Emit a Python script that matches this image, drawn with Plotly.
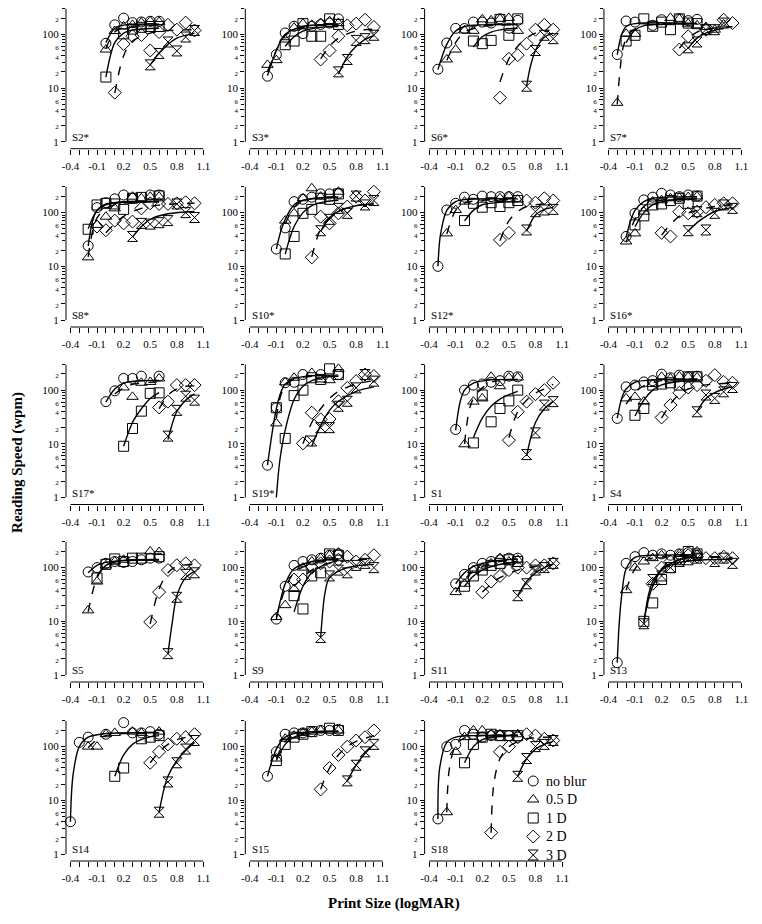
import plotly.graph_objects as go

# page has an 8px body margin: figure is drawn 8px right/down of the window origin
OFF = 8
W, H = 762 - 2 * OFF, 924 - 2 * OFF
FONT = "Liberation Serif"

CONDITIONS = ["no blur", "0.5 D", "1 D", "2 D", "3 D"]
SYMBOLS = ["circle-open", "triangle-up-open", "square-open", "diamond-open", "hourglass-open"]
DASHES = ["solid", "dash", "solid", "dash", "solid"]

X_TICKS = [-0.4, -0.1, 0.2, 0.5, 0.8, 1.1]
X_TICK_TEXT = ["-0.4", "-0.1", "0.2", "0.5", "0.8", "1.1"]
X_MINOR = [-0.3, -0.2, 0.0, 0.1, 0.3, 0.4, 0.6, 0.7, 0.9, 1.0]
Y_TICKS = [1, 2, 4, 6, 10, 20, 40, 60, 100, 200]
Y_TICK_TEXT = ["1", "2", "4", "6", "10", "2", "4", "6", "100", "2"]
Y_SMALL = [False, True, True, True, False, True, True, True, False, True]
Y_MINOR = [3, 5, 7, 8, 9, 30, 50, 70, 80, 90, 300]

# ---- data: markers (x logMAR, y wpm) per condition [no blur, 0.5D, 1D, 2D, 3D]
S2_pts = [
    [(0, 68), (0.1, 150), (0.2, 200), (0.3, 165), (0.4, 170), (0.5, 175), (0.6, 175)],
    [(0, 52), (0.1, 115), (0.2, 140), (0.3, 150), (0.4, 165), (0.5, 175), (0.6, 170)],
    [(0, 16), (0.2, 102), (0.3, 125), (0.4, 135), (0.5, 140), (0.6, 140)],
    [(0.1, 8.2), (0.2, 66), (0.3, 92), (0.4, 97), (0.5, 50), (0.6, 110), (0.7, 150), (0.8, 122), (0.9, 165), (1.0, 118)],
    [(0.5, 27), (0.6, 44), (0.7, 72), (0.8, 49), (0.9, 89), (1.0, 118)],
]
S2_fit = [
    [(0, 70), (0.1, 130), (0.2, 148), (0.6, 155)],
    [(0, 55), (0.1, 110), (0.2, 135), (0.6, 145)],
    [(0, 16), (0.1, 70), (0.2, 105), (0.3, 120), (0.6, 130)],
    [(0.1, 8), (0.2, 40), (0.3, 75), (0.5, 105), (0.7, 118), (1.0, 122)],
    [(0.5, 27), (0.6, 45), (0.7, 65), (0.8, 85), (1.0, 105)],
]
S3_pts = [
    [(-0.2, 16.6), (-0.1, 42), (0, 106), (0.1, 141), (0.2, 103), (0.3, 141), (0.4, 153), (0.5, 162), (0.6, 194)],
    [(-0.2, 27), (-0.1, 33), (0, 80), (0.1, 133), (0.2, 158), (0.3, 150), (0.4, 162), (0.5, 176), (0.6, 162)],
    [(0, 64), (0.1, 75), (0.2, 158), (0.3, 92), (0.4, 92), (0.5, 194), (0.6, 153)],
    [(0.4, 34), (0.5, 50), (0.6, 92), (0.7, 147), (0.8, 158), (0.9, 187), (1.0, 137)],
    [(0.6, 20), (0.7, 34), (0.8, 77), (0.9, 83), (1.0, 96)],
]
S3_fit = [
    [(-0.2, 17), (-0.1, 50), (0, 100), (0.2, 140), (0.6, 152)],
    [(-0.2, 20), (-0.1, 50), (0, 95), (0.2, 135), (0.6, 148)],
    [(0, 60), (0.1, 90), (0.2, 115), (0.4, 135), (0.6, 140)],
    [(0.4, 35), (0.5, 60), (0.6, 85), (0.8, 115), (1.0, 125)],
    [(0.6, 18), (0.7, 38), (0.8, 60), (0.9, 80), (1.0, 95)],
]
S6_pts = [
    [(-0.3, 22.4), (-0.2, 69), (-0.1, 129), (0, 128), (0.1, 169), (0.2, 169), (0.3, 162), (0.4, 194), (0.5, 130), (0.6, 182)],
    [(-0.2, 34), (-0.1, 52), (0, 118), (0.1, 116), (0.2, 190), (0.3, 182), (0.4, 194), (0.5, 202), (0.6, 116)],
    [(0.1, 75), (0.2, 67), (0.3, 77), (0.4, 190), (0.5, 96), (0.6, 194)],
    [(0.4, 6.6), (0.5, 35), (0.6, 41), (0.7, 67), (0.8, 122), (0.9, 150), (1.0, 122)],
    [(0.7, 10.8), (0.8, 50), (0.9, 96), (1.0, 83)],
]
S6_fit = [
    [(-0.3, 22), (-0.2, 65), (-0.1, 115), (0, 140), (0.2, 150), (0.6, 152)],
    [(-0.2, 33), (-0.1, 70), (0, 110), (0.2, 140), (0.6, 150)],
    [(0.1, 58), (0.2, 90), (0.3, 110), (0.45, 125), (0.6, 130)],
    [(0.4, 13), (0.5, 35), (0.6, 60), (0.7, 85), (0.8, 105), (0.95, 115)],
    [(0.7, 10.8), (0.74, 24), (0.8, 50), (0.9, 88), (1.0, 105)],
]
S7_pts = [
    [(-0.3, 42), (-0.2, 177), (-0.1, 169), (0.1, 147), (0.2, 187), (0.4, 194), (0.5, 180), (0.6, 190), (0.7, 122)],
    [(-0.3, 5.3), (-0.2, 102), (-0.1, 102), (0.3, 202), (0.4, 194), (0.5, 158), (0.6, 147), (0.7, 137), (0.8, 122), (0.9, 153)],
    [(-0.2, 75), (-0.1, 96), (0, 194), (0.1, 141), (0.2, 169), (0.3, 122), (0.4, 194), (0.5, 162), (0.6, 158)],
    [(0.4, 52), (0.5, 92), (0.7, 122), (0.9, 187), (1.0, 162)],
    [(0.5, 56), (0.6, 72), (0.7, 122), (0.8, 122), (0.9, 162)],
]
S7_fit = [
    [(-0.3, 42), (-0.25, 100), (-0.2, 140), (-0.1, 158), (0.6, 160)],
    [(-0.3, 5), (-0.27, 20), (-0.23, 60), (-0.15, 110), (0, 145), (0.6, 155)],
    [(-0.2, 70), (-0.1, 120), (0, 145), (0.3, 155), (0.6, 158)],
    [(0.4, 55), (0.5, 85), (0.6, 110), (0.7, 125), (0.9, 135), (1.0, 138)],
    [(0.5, 55), (0.6, 85), (0.7, 105), (0.8, 120), (0.9, 128)],
]
S8_pts = [
    [(-0.2, 24), (-0.1, 124), (0, 153), (0.1, 180), (0.2, 213), (0.3, 185), (0.5, 213), (0.6, 213)],
    [(-0.2, 14.7), (-0.1, 59), (0, 84), (0.1, 120), (0.3, 198), (0.4, 185), (0.5, 198), (0.6, 198)],
    [(-0.2, 49), (-0.1, 139), (0, 149), (0.1, 145), (0.2, 115), (0.3, 185), (0.4, 192), (0.6, 205)],
    [(-0.1, 55), (0, 47), (0.1, 71), (0.2, 63), (0.3, 68), (0.4, 120), (0.5, 149), (0.6, 145), (0.7, 145), (0.8, 149), (0.9, 156), (1.0, 149)],
    [(0.3, 36), (0.4, 63), (0.5, 61), (0.6, 65), (0.7, 71), (0.8, 145), (0.9, 100), (1.0, 81)],
]
S8_fit = [
    [(-0.2, 24), (-0.15, 70), (-0.1, 110), (0, 145), (0.2, 160), (0.6, 162)],
    [(-0.2, 15), (-0.15, 45), (-0.1, 80), (0, 120), (0.2, 150), (0.6, 160)],
    [(-0.2, 50), (-0.1, 110), (0, 140), (0.2, 155), (0.6, 158)],
    [(0, 42), (0.2, 85), (0.4, 120), (0.6, 138), (1.0, 150)],
    [(0.3, 35), (0.4, 55), (0.5, 75), (0.7, 95), (1.0, 105)],
]
S10_pts = [
    [(-0.1, 21), (0, 52), (0.1, 160), (0.2, 177), (0.3, 194), (0.4, 223), (0.5, 223), (0.6, 229)],
    [(0, 71), (0.1, 97), (0.2, 185), (0.3, 284), (0.4, 198), (0.6, 245)],
    [(0, 17), (0.1, 36), (0.2, 97), (0.3, 115), (0.4, 185), (0.5, 177), (0.6, 223)],
    [(0.3, 14.7), (0.4, 84), (0.5, 63), (0.6, 97), (0.7, 130), (0.8, 198), (0.9, 168), (1.0, 245)],
    [(0.4, 46), (0.5, 75), (0.6, 120), (0.7, 97), (0.8, 203), (0.9, 139), (1.0, 168)],
]
S10_fit = [
    [(-0.1, 21), (-0.05, 45), (0, 75), (0.1, 140), (0.2, 170), (0.4, 190), (0.6, 195)],
    [(0, 62), (0.1, 125), (0.2, 165), (0.4, 190), (0.6, 198)],
    [(0, 17), (0.1, 55), (0.2, 100), (0.3, 135), (0.45, 160), (0.6, 170)],
    [(0.3, 15), (0.4, 50), (0.5, 80), (0.6, 105), (0.8, 135), (1.0, 150)],
    [(0.4, 45), (0.5, 80), (0.6, 105), (0.8, 135), (1.0, 145)],
]
S12_pts = [
    [(-0.3, 10), (-0.2, 112), (-0.1, 149), (0, 194), (0.1, 177), (0.2, 203), (0.3, 198), (0.4, 198), (0.5, 198), (0.6, 198)],
    [(-0.2, 41), (-0.1, 112), (0, 160), (0.4, 185), (0.5, 203), (0.6, 175)],
    [(0, 71), (0.1, 149), (0.2, 126), (0.3, 153), (0.4, 130), (0.5, 153), (0.6, 168)],
    [(0.4, 31), (0.5, 42), (0.7, 168), (0.8, 153), (0.9, 185), (1.0, 168)],
    [(0.7, 47.5), (0.8, 104), (0.9, 112), (1.0, 115)],
]
S12_fit = [
    [(-0.3, 10), (-0.27, 40), (-0.2, 110), (-0.1, 160), (0, 175), (0.6, 180)],
    [(-0.2, 40), (-0.1, 110), (0, 150), (0.2, 170), (0.6, 175)],
    [(0, 70), (0.1, 110), (0.2, 140), (0.4, 155), (0.6, 160)],
    [(0.4, 30), (0.5, 70), (0.6, 105), (0.7, 130), (0.9, 145), (1.0, 148)],
    [(0.7, 45), (0.8, 90), (0.9, 115), (1.0, 125)],
]
S16_pts = [
    [(-0.2, 36), (-0.1, 97), (0, 172), (0.1, 194), (0.2, 229), (0.3, 213), (0.4, 198), (0.5, 213), (0.6, 203)],
    [(-0.2, 29), (-0.1, 41), (0, 104), (0.1, 160), (0.2, 170), (0.3, 185), (0.4, 190), (0.5, 195), (0.6, 200)],
    [(-0.1, 59), (0, 87), (0.1, 139), (0.2, 145), (0.3, 168), (0.4, 185), (0.5, 149), (0.6, 203)],
    [(0.2, 42), (0.3, 36), (0.4, 104), (0.5, 97), (0.6, 104), (0.7, 126), (0.8, 139), (0.9, 149), (1.0, 149)],
    [(0.5, 46), (0.6, 104), (0.7, 47.5), (0.8, 97), (0.9, 139), (1.0, 120)],
]
S16_fit = [
    [(-0.2, 35), (-0.15, 70), (-0.1, 110), (0, 160), (0.1, 185), (0.3, 195), (0.6, 198)],
    [(-0.2, 28), (-0.1, 75), (0, 130), (0.2, 170), (0.6, 185)],
    [(-0.1, 55), (0, 100), (0.1, 140), (0.3, 170), (0.6, 180)],
    [(0.2, 38), (0.3, 60), (0.4, 85), (0.6, 110), (0.8, 130), (1.0, 140)],
    [(0.5, 45), (0.6, 65), (0.7, 85), (0.8, 105), (1.0, 125)],
]
S17_pts = [
    [(0, 61), (0.1, 97), (0.2, 165), (0.3, 165), (0.4, 182), (0.6, 182)],
    [(0.2, 112), (0.3, 75), (0.4, 137), (0.5, 142), (0.6, 165)],
    [(0.2, 9), (0.3, 19.3), (0.4, 40.6), (0.5, 87), (0.6, 89)],
    [(0.6, 47.6), (0.7, 61), (0.8, 124), (0.9, 124), (1.0, 124)],
    [(0.7, 13.9), (0.8, 42), (0.9, 77), (1.0, 65)],
]
S17_fit = [
    [(0, 60), (0.1, 105), (0.2, 135), (0.4, 150), (0.6, 152)],
    [(0.1, 85), (0.2, 110), (0.3, 128), (0.5, 140), (0.6, 142)],
    [(0.2, 9), (0.3, 25), (0.4, 45), (0.5, 70), (0.6, 90)],
    [(0.6, 45), (0.7, 80), (0.8, 105), (0.9, 118), (1.0, 120)],
    [(0.7, 12), (0.8, 40), (0.9, 65), (1.0, 85)],
]
S19_pts = [
    [(-0.2, 4), (-0.1, 47), (0, 137), (0.1, 140), (0.2, 195), (0.4, 195), (0.6, 195)],
    [(-0.1, 24), (0, 140), (0.1, 170), (0.3, 209), (0.4, 158), (0.5, 153), (0.6, 249)],
    [(-0.1, 47), (0, 12.6), (0.1, 79), (0.2, 100), (0.3, 170), (0.4, 158), (0.5, 249), (0.6, 195)],
    [(0.2, 10.2), (0.3, 38), (0.4, 28.5), (0.5, 29), (0.6, 62), (0.7, 110), (0.8, 147), (0.9, 195), (1.0, 183)],
    [(0.3, 11.3), (0.4, 20), (0.5, 20), (0.6, 50), (0.7, 62), (0.8, 110), (0.9, 195), (1.0, 147)],
]
S19_fit = [
    [(-0.2, 4), (-0.15, 15), (-0.1, 45), (-0.05, 90), (0, 130), (0.1, 165), (0.3, 185), (0.6, 190)],
    [(-0.1, 30), (-0.05, 80), (0, 120), (0.1, 160), (0.3, 180), (0.6, 185)],
    [(-0.1, 1), (-0.06, 5), (0, 18), (0.1, 67), (0.2, 118), (0.3, 150), (0.45, 175), (0.6, 180)],
    [(0.2, 10), (0.3, 25), (0.4, 45), (0.5, 70), (0.6, 95), (0.8, 130), (1.0, 150)],
    [(0.3, 9), (0.4, 22), (0.5, 42), (0.6, 62), (0.8, 95), (1.0, 115)],
]
S1_pts = [
    [(-0.1, 18.5), (0, 100), (0.1, 124), (0.2, 130), (0.3, 140), (0.4, 150), (0.5, 182), (0.6, 177)],
    [(0, 9.8), (0.1, 61), (0.2, 70), (0.3, 177), (0.4, 118), (0.5, 172), (0.6, 172)],
    [(0.1, 10.4), (0.2, 81), (0.3, 25.7), (0.4, 45.5), (0.5, 63), (0.6, 100)],
    [(0.5, 11.7), (0.6, 39.5), (0.7, 61), (0.8, 84), (0.9, 100), (1.0, 137)],
    [(0.7, 6.3), (0.8, 16), (0.9, 52.6), (1.0, 61)],
]
S1_fit = [
    [(-0.1, 18), (-0.05, 60), (0, 100), (0.1, 135), (0.3, 155), (0.6, 158)],
    [(0, 10), (0.05, 40), (0.1, 70), (0.2, 110), (0.3, 140), (0.4, 150)],
    [(0.1, 13), (0.2, 30), (0.3, 50), (0.4, 68), (0.5, 82), (0.6, 95)],
    [(0.5, 13), (0.6, 40), (0.7, 65), (0.8, 88), (0.9, 105), (1.0, 128)],
    [(0.7, 6), (0.8, 25), (0.9, 45), (1.0, 62)],
]
S4_pts = [
    [(-0.3, 29.7), (-0.2, 115), (-0.1, 124), (0, 142), (0.1, 150), (0.2, 198), (0.3, 170), (0.4, 190), (0.5, 177), (0.6, 182)],
    [(-0.2, 70), (-0.1, 75), (0, 61), (0.1, 130), (0.2, 177), (0.3, 165), (0.4, 180), (0.5, 175), (0.6, 172)],
    [(-0.1, 34), (0, 45.5), (0.1, 124), (0.2, 130), (0.3, 137), (0.4, 124), (0.5, 177), (0.6, 177)],
    [(0.2, 31), (0.3, 52.6), (0.4, 89), (0.5, 112), (0.6, 124), (0.7, 149), (0.8, 190), (0.9, 142), (1.0, 137)],
    [(0.6, 39.5), (0.7, 81), (0.8, 70), (0.9, 93), (1.0, 112)],
]
S4_fit = [
    [(-0.3, 30), (-0.25, 70), (-0.2, 105), (-0.1, 140), (0.1, 155), (0.6, 160)],
    [(-0.2, 55), (-0.1, 90), (0, 120), (0.2, 150), (0.6, 160)],
    [(-0.1, 33), (0, 65), (0.1, 100), (0.2, 125), (0.4, 145), (0.6, 150)],
    [(0.2, 30), (0.3, 55), (0.4, 85), (0.5, 105), (0.7, 125), (1.0, 135)],
    [(0.6, 40), (0.7, 70), (0.8, 90), (0.9, 105), (1.0, 115)],
]
S5_pts = [
    [(-0.2, 83), (-0.1, 100), (0, 120), (0.1, 130), (0.2, 125), (0.3, 130), (0.4, 140), (0.5, 150), (0.6, 150)],
    [(-0.2, 16), (-0.1, 55), (0, 110), (0.1, 130), (0.2, 140), (0.5, 200), (0.6, 195)],
    [(-0.1, 64), (0, 115), (0.1, 145), (0.2, 130), (0.3, 150), (0.4, 150), (0.6, 160)],
    [(0.5, 9.7), (0.6, 35), (0.7, 90), (0.8, 111), (0.9, 120), (1.0, 110)],
    [(0.7, 2.5), (0.8, 28), (0.9, 75), (1.0, 80)],
]
S5_fit = [
    [(-0.2, 80), (-0.1, 110), (0, 125), (0.2, 135), (0.6, 138)],
    [(-0.2, 15), (-0.15, 35), (-0.1, 65), (0, 110), (0.2, 135), (0.6, 140)],
    [(-0.1, 70), (0, 110), (0.1, 130), (0.3, 140), (0.6, 142)],
    [(0.5, 9), (0.6, 40), (0.7, 80), (0.8, 105), (1.0, 115)],
    [(0.7, 2.5), (0.75, 10), (0.8, 30), (0.9, 65), (1.0, 85)],
]
S9_pts = [
    [(-0.1, 11), (0, 45), (0.1, 110), (0.2, 130), (0.3, 140), (0.4, 150), (0.5, 170), (0.6, 180)],
    [(-0.1, 12), (0, 20), (0.1, 40), (0.2, 100), (0.3, 130), (0.4, 150), (0.5, 170), (0.6, 190)],
    [(0.1, 30), (0.2, 17), (0.3, 70), (0.4, 80), (0.5, 180), (0.6, 170)],
    [(0.1, 60), (0.2, 60), (0.3, 100), (0.4, 120), (0.5, 130), (0.6, 140), (0.7, 160), (0.8, 130), (0.9, 140), (1.0, 170)],
    [(0.4, 5), (0.5, 70), (0.6, 90), (0.7, 80), (0.8, 110), (0.9, 120), (1.0, 100)],
]
S9_fit = [
    [(-0.1, 11), (0, 50), (0.1, 95), (0.3, 130), (0.6, 145)],
    [(-0.1, 12), (0, 40), (0.1, 80), (0.3, 120), (0.6, 140)],
    [(0.1, 15), (0.2, 45), (0.3, 80), (0.45, 115), (0.6, 135)],
    [(0.1, 45), (0.3, 90), (0.5, 120), (0.7, 135), (1.0, 145)],
    [(0.4, 5), (0.45, 35), (0.5, 65), (0.7, 100), (1.0, 115)],
]
S11_pts = [
    [(-0.1, 50), (0, 75), (0.1, 100), (0.2, 120), (0.3, 130), (0.4, 140), (0.5, 150), (0.6, 150)],
    [(-0.1, 35), (0, 50), (0.1, 90), (0.2, 100), (0.3, 120), (0.4, 150), (0.5, 130), (0.6, 140)],
    [(0, 45), (0.1, 70), (0.2, 90), (0.3, 110), (0.4, 120), (0.5, 140), (0.6, 130)],
    [(0.2, 35), (0.3, 55), (0.4, 70), (0.5, 90), (0.6, 100), (0.7, 100), (0.8, 110), (0.9, 110), (1.0, 120)],
    [(0.6, 30), (0.7, 50), (0.8, 90), (0.9, 100), (1.0, 120)],
]
S11_fit = [
    [(-0.1, 50), (0, 80), (0.1, 105), (0.3, 130), (0.6, 145)],
    [(-0.1, 35), (0, 60), (0.1, 85), (0.3, 120), (0.6, 140)],
    [(0, 45), (0.1, 70), (0.2, 90), (0.4, 115), (0.6, 130)],
    [(0.2, 35), (0.4, 65), (0.6, 90), (0.8, 105), (1.0, 115)],
    [(0.6, 30), (0.7, 55), (0.8, 80), (0.9, 100), (1.0, 115)],
]
S13_pts = [
    [(-0.3, 1.7), (-0.2, 120), (-0.1, 160), (0, 190), (0.1, 170), (0.2, 180), (0.3, 170), (0.4, 180), (0.5, 190), (0.6, 170)],
    [(-0.2, 38), (-0.1, 100), (0, 130), (0.1, 150), (0.2, 170), (0.4, 180), (0.6, 200)],
    [(0, 10), (0.1, 22), (0.2, 60), (0.3, 100), (0.4, 140), (0.5, 200), (0.6, 180)],
    [(0.1, 50), (0.2, 100), (0.3, 130), (0.4, 150), (0.5, 170), (0.6, 160), (0.7, 150), (0.8, 150), (0.9, 160), (1.0, 150)],
    [(0, 9), (0.1, 60), (0.2, 70), (0.3, 100), (0.4, 130), (0.5, 140), (0.6, 150), (0.8, 130), (0.9, 150), (1.0, 120)],
]
S13_fit = [
    [(-0.3, 1.7), (-0.28, 8), (-0.25, 30), (-0.2, 95), (-0.1, 155), (0.1, 170), (0.6, 172)],
    [(-0.2, 38), (-0.1, 95), (0, 135), (0.2, 160), (0.6, 170)],
    [(0, 10), (0.05, 25), (0.1, 45), (0.2, 90), (0.4, 140), (0.6, 160)],
    [(0.1, 45), (0.2, 95), (0.3, 125), (0.5, 150), (1.0, 155)],
    [(0, 9), (0.05, 30), (0.1, 55), (0.2, 90), (0.4, 125), (0.7, 140), (1.0, 142)],
]
S14_pts = [
    [(-0.4, 4), (-0.3, 120), (-0.2, 150), (0, 170), (0.2, 280), (0.3, 180), (0.4, 180), (0.5, 190), (0.6, 170)],
    [(-0.2, 100), (-0.1, 100), (0, 170), (0.1, 180), (0.3, 190), (0.4, 180), (0.6, 190)],
    [(0.1, 28), (0.2, 40), (0.4, 140), (0.5, 150), (0.6, 160)],
    [(0.5, 50), (0.6, 80), (0.7, 110), (0.8, 140), (0.9, 150), (1.0, 170)],
    [(0.6, 6), (0.7, 22), (0.8, 50), (0.9, 90), (1.0, 130)],
]
S14_fit = [
    [(-0.4, 4), (-0.37, 30), (-0.3, 100), (-0.2, 150), (0, 175), (0.6, 180)],
    [(-0.2, 95), (-0.1, 135), (0, 160), (0.2, 175), (0.6, 180)],
    [(0.1, 28), (0.2, 70), (0.3, 110), (0.45, 145), (0.6, 160)],
    [(0.5, 50), (0.6, 80), (0.7, 110), (0.8, 135), (1.0, 160)],
    [(0.6, 6), (0.65, 15), (0.7, 28), (0.8, 55), (0.9, 85), (1.0, 120)],
]
S15_pts = [
    [(-0.2, 28), (-0.1, 80), (0, 170), (0.1, 180), (0.2, 180), (0.3, 190), (0.4, 200), (0.5, 200), (0.6, 210)],
    [(-0.1, 60), (0, 140), (0.1, 160), (0.2, 180), (0.3, 190), (0.4, 200), (0.6, 200)],
    [(-0.1, 55), (0, 110), (0.1, 150), (0.2, 170), (0.3, 190), (0.5, 220), (0.6, 200)],
    [(0.4, 16), (0.5, 40), (0.6, 70), (0.7, 100), (0.8, 130), (0.9, 150), (1.0, 200)],
    [(0.7, 23), (0.8, 45), (0.9, 80), (1.0, 110)],
]
S15_fit = [
    [(-0.2, 28), (-0.1, 90), (0, 150), (0.1, 175), (0.3, 190), (0.6, 195)],
    [(-0.1, 60), (0, 125), (0.1, 160), (0.3, 185), (0.6, 190)],
    [(-0.1, 55), (0, 110), (0.1, 150), (0.3, 180), (0.6, 190)],
    [(0.4, 16), (0.5, 40), (0.6, 70), (0.7, 100), (0.8, 125), (1.0, 160)],
    [(0.7, 23), (0.8, 45), (0.9, 75), (1.0, 110)],
]
S18_pts = [
    [(-0.3, 4.5), (-0.2, 100), (-0.1, 110), (0, 200), (0.1, 170), (0.2, 150), (0.3, 160), (0.4, 160), (0.5, 160), (0.6, 150)],
    [(-0.2, 6), (-0.1, 80), (0, 150), (0.1, 200), (0.2, 200), (0.3, 170), (0.4, 170), (0.6, 170)],
    [(0, 50), (0.1, 110), (0.2, 150), (0.3, 170), (0.4, 160), (0.5, 160), (0.6, 160)],
    [(0.3, 2.5), (0.4, 80), (0.5, 100), (0.6, 150), (0.7, 170), (0.8, 160), (0.9, 140), (1.0, 130)],
    [(0.6, 28), (0.7, 60), (0.8, 100), (0.9, 110), (1.0, 130)],
]
S18_fit = [
    [(-0.3, 4.5), (-0.28, 40), (-0.2, 120), (-0.1, 150), (0.1, 160), (0.6, 162)],
    [(-0.2, 6), (-0.17, 40), (-0.1, 105), (0, 145), (0.2, 160), (0.6, 165)],
    [(0, 50), (0.1, 100), (0.2, 135), (0.4, 155), (0.6, 160)],
    [(0.3, 2.5), (0.33, 20), (0.4, 60), (0.5, 100), (0.7, 140), (1.0, 150)],
    [(0.6, 28), (0.7, 60), (0.8, 90), (0.9, 110), (1.0, 125)],
]

PANEL_NAMES = ["S2*", "S3*", "S6*", "S7*", "S8*", "S10*", "S12*", "S16*",
               "S17*", "S19*", "S1", "S4", "S5", "S9", "S11", "S13",
               "S14", "S15", "S18"]
PANEL_PTS = [S2_pts, S3_pts, S6_pts, S7_pts, S8_pts, S10_pts, S12_pts, S16_pts,
             S17_pts, S19_pts, S1_pts, S4_pts, S5_pts, S9_pts, S11_pts, S13_pts,
             S14_pts, S15_pts, S18_pts]
PANEL_FIT = [S2_fit, S3_fit, S6_fit, S7_fit, S8_fit, S10_fit, S12_fit, S16_fit,
             S17_fit, S19_fit, S1_fit, S4_fit, S5_fit, S9_fit, S11_fit, S13_fit,
             S14_fit, S15_fit, S18_fit]

# ---- layout geometry (window pixels, converted to figure pixels with OFF)
COL_LEFT = [62.8 + 182 * c - OFF for c in range(4)]
ROW_Y1 = [y - OFF for y in [141.7, 320.0, 497.5, 675.0, 854.0]]
PANEL_W = 139.5
X_RANGE = [-0.45, 1.1]
Y_RANGE = [-0.13, 2.477]
Y1_FRAC = 0.13 / (2.477 + 0.13)

# legend block geometry (window pixels)
LEG_SYM_X = 537 - OFF
LEG_TEXT_X = 548 - OFF
LEG_ROW_Y = [y - OFF for y in [781, 799.5, 818, 836.5, 855]]
LEG_BOX = (525 - OFF, 550 - OFF, 770 - OFF, 866 - OFF)  # x0, x1, ytop, ybottom

fig = go.Figure()
layout = {}
shapes = []
annotations = []

ytext = [f'<span style="font-size:7px">{t}</span>' if s else t for t, s in zip(Y_TICK_TEXT, Y_SMALL)]

for i, (name, pts, fit) in enumerate(zip(PANEL_NAMES, PANEL_PTS, PANEL_FIT)):
    r, c = divmod(i, 4)
    n = i + 1
    xs = "x" if n == 1 else f"x{n}"
    ys = "y" if n == 1 else f"y{n}"
    left = COL_LEFT[c]
    right = left + PANEL_W
    bottom = ROW_Y1[r] + 7
    top = ROW_Y1[r] - 133
    layout["xaxis" if n == 1 else f"xaxis{n}"] = dict(
        domain=[left / W, right / W], range=X_RANGE, anchor=ys,
        showline=False, showgrid=False, zeroline=False,
        tickmode="array", tickvals=X_TICKS, ticktext=X_TICK_TEXT,
        ticks="outside", ticklen=5, tickwidth=1, tickcolor="black",
        ticklabelstandoff=2,
        tickfont=dict(family=FONT, size=11, color="black"),
        minor=dict(tickmode="array", tickvals=X_MINOR, ticks="outside",
                   ticklen=5, tickwidth=1, tickcolor="black", showgrid=False),
    )
    layout["yaxis" if n == 1 else f"yaxis{n}"] = dict(
        domain=[1 - bottom / H, 1 - top / H], range=Y_RANGE, type="log", anchor=xs,
        showline=False, showgrid=False, zeroline=False,
        tickmode="array", tickvals=Y_TICKS, ticktext=ytext,
        ticks="outside", ticklen=4, tickwidth=1, tickcolor="black",
        tickfont=dict(family=FONT, size=11, color="black"),
        minor=dict(tickmode="array", tickvals=Y_MINOR, ticks="outside",
                   ticklen=3, tickwidth=1, tickcolor="black", showgrid=False),
    )
    shapes.append(dict(type="line", xref=xs, yref=f"{ys} domain", x0=-0.4, x1=1.1,
                       y0=0, y1=0, line=dict(color="black", width=1)))
    shapes.append(dict(type="line", xref=f"{xs} domain", yref=f"{ys} domain", x0=0, x1=0,
                       y0=Y1_FRAC, y1=1, line=dict(color="black", width=1)))
    annotations.append(dict(text=name, xref=xs, yref=f"{ys} domain", x=-0.4, y=0.085,
                            xanchor="left", yanchor="middle", showarrow=False,
                            font=dict(family=FONT, size=11, color="black")))
    for k in range(5):
        fx = [p[0] for p in fit[k]]
        fy = [p[1] for p in fit[k]]
        fig.add_trace(go.Scatter(x=fx, y=fy, mode="lines", xaxis=xs, yaxis=ys,
                                 line=dict(color="black", width=1.4, dash=DASHES[k],
                                           shape="spline", smoothing=0.9),
                                 showlegend=False, hoverinfo="skip"))
    for k in range(5):
        px = [p[0] for p in pts[k]]
        py = [p[1] for p in pts[k]]
        fig.add_trace(go.Scatter(x=px, y=py, mode="markers", xaxis=xs, yaxis=ys,
                                 marker=dict(symbol=SYMBOLS[k], size=10, color="black",
                                             line=dict(width=1)),
                                 showlegend=False, cliponaxis=False))

# ---- legend block drawn on its own hidden axis (pixel units)
nl = len(PANEL_NAMES) + 1
lx0, lx1, lyt, lyb = LEG_BOX
layout[f"xaxis{nl}"] = dict(domain=[lx0 / W, lx1 / W], range=[lx0, lx1], visible=False,
                            anchor=f"y{nl}", fixedrange=True)
layout[f"yaxis{nl}"] = dict(domain=[1 - lyb / H, 1 - lyt / H], range=[lyb, lyt], visible=False,
                            anchor=f"x{nl}", fixedrange=True)
for k in range(5):
    fig.add_trace(go.Scatter(x=[LEG_SYM_X], y=[LEG_ROW_Y[k]], mode="markers",
                             xaxis=f"x{nl}", yaxis=f"y{nl}", name=CONDITIONS[k],
                             marker=dict(symbol=SYMBOLS[k], size=10, color="black",
                                         line=dict(width=1)),
                             showlegend=False, cliponaxis=False, hoverinfo="name"))
    annotations.append(dict(text=CONDITIONS[k], xref="paper", yref="paper",
                            x=LEG_TEXT_X / W, y=1 - LEG_ROW_Y[k] / H, showarrow=False,
                            xanchor="left", yanchor="middle",
                            font=dict(family=FONT, size=14, color="black")))

annotations.append(dict(text="<b>Reading Speed (wpm)</b>", xref="paper", yref="paper",
                        x=5 / W, y=1 - (462 - OFF) / H, textangle=-90, showarrow=False,
                        xanchor="center", yanchor="middle",
                        font=dict(family=FONT, size=15, color="black")))
annotations.append(dict(text="<b>Print Size (logMAR)</b>", xref="paper", yref="paper",
                        x=(396 - OFF) / W, y=1 - (903 - OFF) / H, showarrow=False,
                        xanchor="center", yanchor="middle",
                        font=dict(family=FONT, size=15, color="black")))

fig.update_layout(
    width=W, height=H, margin=dict(l=0, r=0, t=0, b=0),
    paper_bgcolor="white", plot_bgcolor="rgba(0,0,0,0)",
    shapes=shapes, annotations=annotations, showlegend=False,
    **layout,
)

fig.write_html("out.html")
